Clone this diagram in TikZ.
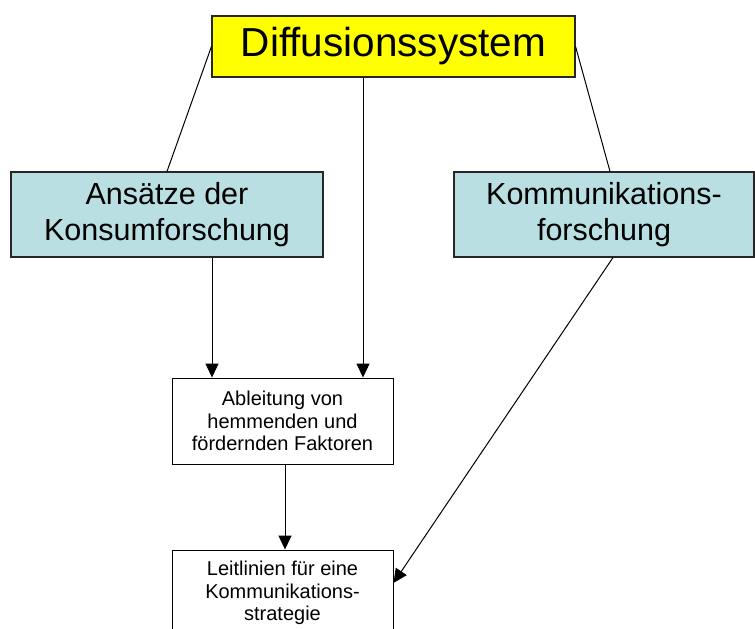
\documentclass[tikz,border=0pt]{standalone}
\usepackage{fontspec}
\setmainfont{Liberation Sans}
\usetikzlibrary{arrows.meta,calc}
\definecolor{teal}{HTML}{B9DFE3}
\definecolor{headyellow}{HTML}{FFFF00}
\begin{document}
\begin{tikzpicture}[x=1pt,y=-1pt,
  box/.style={draw=black!85,line width=1.1pt,inner sep=0pt,align=center},
  headbox/.style={box,fill=headyellow,minimum width=363pt,minimum height=61pt,
    font=\fontsize{40.5}{46}\selectfont},
  fieldbox/.style={box,fill=teal,minimum height=85pt,
    font=\fontsize{30.5}{36}\selectfont},
  resultbox/.style={box,draw=black,line width=0.9pt,fill=white,minimum width=221pt,minimum height=86pt,
    font=\fontsize{20}{22.5}\selectfont},
  link/.style={draw=black,line width=1pt},
  arr/.style={link,-{Triangle[length=14pt,width=13pt]}}]
\useasboundingbox (0,0) rectangle (755,629);
\clip (0,0) rectangle (755,629);

% boxes
\node[headbox] (dif) at (393.5,46.5) {\raisebox{-3pt}{Diffusionssystem}};
\node[fieldbox,minimum width=312pt] (ans) at (167,214.5) {Ansätze der\\Konsumforschung};
\node[fieldbox,minimum width=300pt] (kom) at (604,214.5) {Kommunikations-\\forschung};
\node[resultbox] (abl) at (282.5,421) {Ableitung von\\hemmenden und\\fördernden Faktoren};
\node[resultbox] (lei) at (282.5,593) {Leitlinien für eine\\Kommunikations-\\strategie};

% plain links from the top box
\draw[link] (dif.west) -- (ans.north);
\draw[link] (dif.east) -- ([xshift=6]kom.north);

% arrows
\draw[arr] ([xshift=-30.5]dif.south) -- ([xshift=-30.5]dif.south |- abl.north);
\draw[arr] ([xshift=45]ans.south) -- ([xshift=45]ans.south |- abl.north);
\draw[arr] ([xshift=2.5]abl.south) -- ([xshift=2.5]abl.south |- lei.north);
\draw[arr] ([xshift=9]kom.south) -- ([yshift=10]lei.east);
\end{tikzpicture}
\end{document}
